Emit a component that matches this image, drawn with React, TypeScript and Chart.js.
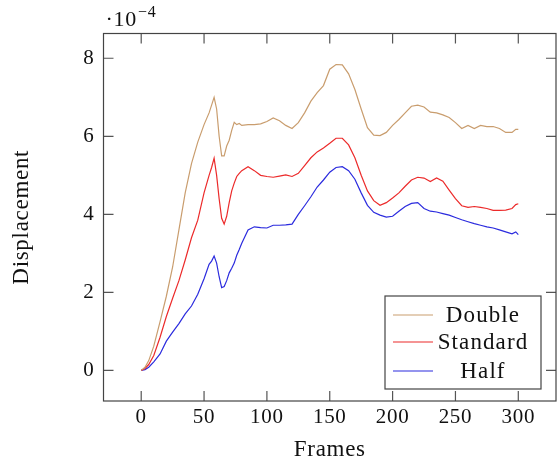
import React, { useEffect, useRef } from "react";
import { Chart, registerables } from "chart.js";

Chart.register(...registerables);

// Frames (x values)
const frames = [
  0, 3, 6, 10, 15, 20, 25, 30, 35, 40, 45, 50, 54, 56, 58, 60, 62, 64, 66, 68, 70, 72,
  74, 76, 78, 80, 85, 90, 95, 100, 105, 110, 115, 120, 125, 130, 135, 140, 145, 150,
  155, 160, 165, 170, 175, 180, 185, 190, 195, 200, 205, 210, 215, 220, 225, 230, 235,
  240, 245, 250, 255, 260, 265, 270, 275, 280, 285, 290, 295, 298, 300,
];

// Displacement values, in units of 1e-4
const doubleVals = [
  0, 0.08, 0.25, 0.62, 1.25, 1.9, 2.65, 3.6, 4.55, 5.3, 5.85, 6.3, 6.6, 6.8, 7.0, 6.7,
  6.0, 5.5, 5.5, 5.75, 5.9, 6.15, 6.36, 6.3, 6.33, 6.28, 6.3, 6.3, 6.32, 6.38, 6.47,
  6.4, 6.28, 6.2, 6.35, 6.6, 6.9, 7.12, 7.3, 7.72, 7.84, 7.83, 7.6, 7.2, 6.7, 6.22,
  6.03, 6.02, 6.1, 6.28, 6.43, 6.6, 6.77, 6.8, 6.75, 6.62, 6.6, 6.55, 6.48, 6.35, 6.2,
  6.28, 6.2, 6.28, 6.25, 6.25, 6.2, 6.1, 6.1, 6.18, 6.18,
];

const standardVals = [
  0, 0.05, 0.15, 0.38, 0.85, 1.38, 1.85, 2.3, 2.83, 3.4, 3.85, 4.55, 5.0, 5.2, 5.44,
  5.0, 4.4, 3.9, 3.75, 3.95, 4.3, 4.6, 4.8, 4.97, 5.05, 5.12, 5.22, 5.12, 5.0, 4.97,
  4.95, 4.98, 5.01, 4.97, 5.05, 5.25, 5.45, 5.6, 5.7, 5.82, 5.95, 5.95, 5.78, 5.45,
  5.0, 4.6, 4.35, 4.23, 4.3, 4.42, 4.55, 4.72, 4.88, 4.95, 4.93, 4.84, 4.93, 4.85,
  4.62, 4.4, 4.22, 4.18, 4.2, 4.18, 4.15, 4.1, 4.1, 4.11, 4.15, 4.25, 4.27,
];

const halfVals = [
  0, 0.02, 0.08, 0.22, 0.42, 0.75, 0.98, 1.2, 1.45, 1.65, 1.95, 2.35, 2.72, 2.8, 2.93,
  2.75, 2.4, 2.12, 2.15, 2.3, 2.5, 2.62, 2.75, 2.95, 3.1, 3.26, 3.6, 3.68, 3.66, 3.65,
  3.72, 3.72, 3.73, 3.75, 4.0, 4.22, 4.45, 4.7, 4.88, 5.08, 5.2, 5.22, 5.12, 4.9, 4.55,
  4.23, 4.05, 3.98, 3.93, 3.95, 4.08, 4.2, 4.28, 4.3, 4.15, 4.08, 4.06, 4.02, 3.98,
  3.92, 3.86, 3.81, 3.76, 3.72, 3.68, 3.65, 3.6, 3.55, 3.5, 3.55, 3.48,
];

const seriesLabels = ["Double", "Standard", "Half"];
const seriesColors = ["#c99d6e", "#ec2a2a", "#2b2bde"];

const xTicks = [0, 50, 100, 150, 200, 250, 300];
const yTicks = [0, 2, 4, 6, 8];

const FONT = "'Liberation Serif', 'Times New Roman', serif";
const FRAME = "#555555";

const toPoints = (vals: number[]) => frames.map((f, i) => ({ x: f, y: vals[i] }));

const framePlugin = {
  id: "pgfFrame",
  beforeDraw(chart: any) {
    try {
      chart.ctx.letterSpacing = "0.7px";
    } catch (e) {
      /* ignore */
    }
  },
  afterDraw(chart: any) {
    const { ctx, chartArea } = chart;
    const { left, right, top, bottom } = chartArea;
    const xs = chart.scales.x;
    const ys = chart.scales.y;
    ctx.save();
    ctx.strokeStyle = FRAME;
    ctx.lineWidth = 1.2;
    const tl = 10;
    ctx.beginPath();
    xTicks.forEach((v) => {
      const px = xs.getPixelForValue(v);
      ctx.moveTo(px, bottom);
      ctx.lineTo(px, bottom - tl);
      ctx.moveTo(px, top);
      ctx.lineTo(px, top + tl);
    });
    yTicks.forEach((v) => {
      const py = ys.getPixelForValue(v);
      ctx.moveTo(left, py);
      ctx.lineTo(left + tl, py);
      ctx.moveTo(right, py);
      ctx.lineTo(right - tl, py);
    });
    ctx.stroke();
    ctx.strokeStyle = "#444444";
    ctx.strokeRect(left, top, right - left, bottom - top);

    // exponent label
    ctx.fillStyle = "#111111";
    ctx.textBaseline = "alphabetic";
    ctx.textAlign = "left";
    ctx.font = `22px ${FONT}`;
    ctx.fillText("·10", left + 2, top - 8);
    const w = ctx.measureText("·10").width;
    ctx.font = `16px ${FONT}`;
    ctx.fillText("−4", left + 2 + w + 1, top - 17);

    // legend
    const bw = 156;
    const bh = 93;
    const bx = right - 15 - bw;
    const by = bottom - 12 - bh;
    ctx.fillStyle = "#ffffff";
    ctx.fillRect(bx, by, bw, bh);
    ctx.strokeStyle = "#444444";
    ctx.lineWidth = 1.2;
    ctx.strokeRect(bx, by, bw, bh);
    const rows = [19, 46, 75];
    chart.data.datasets.forEach((ds: any, i: number) => {
      const ry = by + rows[i];
      ctx.strokeStyle = ds.borderColor;
      ctx.lineWidth = 1.2;
      ctx.beginPath();
      ctx.moveTo(bx + 8, ry);
      ctx.lineTo(bx + 48, ry);
      ctx.stroke();
      ctx.fillStyle = "#111111";
      ctx.font = `23px ${FONT}`;
      try {
        ctx.letterSpacing = "1.1px";
      } catch (e) {
        /* ignore */
      }
      ctx.textAlign = "center";
      ctx.textBaseline = "middle";
      ctx.fillText(ds.label, bx + 98, ry + 1);
    });
    ctx.restore();
  },
};

export default function App() {
  const ref = useRef<HTMLCanvasElement | null>(null);

  useEffect(() => {
    document.body.style.margin = "0";
    const canvas = ref.current;
    if (!canvas) return;
    const chart = new Chart(canvas, {
      type: "line",
      data: {
        datasets: [doubleVals, standardVals, halfVals].map((vals, i) => ({
          label: seriesLabels[i],
          data: toPoints(vals),
          borderColor: seriesColors[i],
          backgroundColor: seriesColors[i],
          borderWidth: 1.2,
          pointRadius: 0,
          tension: 0,
          fill: false,
        })),
      },
      options: {
        animation: false,
        responsive: false,
        devicePixelRatio: 1,
        layout: { padding: { top: 33.5, right: 3, bottom: 0, left: 0 } },
        plugins: {
          legend: { display: false },
          tooltip: { enabled: false },
        },
        scales: {
          x: {
            type: "linear",
            min: -30,
            max: 330,
            afterBuildTicks: (s: any) => {
              s.ticks = xTicks.map((v) => ({ value: v }));
            },
            afterFit: (s: any) => {
              s.height = 63;
            },
            grid: { display: false, drawTicks: false },
            border: { display: false },
            ticks: {
              color: "#111111",
              font: { family: FONT, size: 21 },
              padding: 4,
              maxRotation: 0,
              autoSkip: false,
            },
            title: {
              display: true,
              text: "Frames",
              color: "#111111",
              font: { family: FONT, size: 23 },
              padding: { top: 0, bottom: 0 },
            },
          },
          y: {
            type: "linear",
            min: -0.785,
            max: 8.635,
            afterBuildTicks: (s: any) => {
              s.ticks = yTicks.map((v) => ({ value: v }));
            },
            afterFit: (s: any) => {
              s.width = 103.5;
            },
            grid: { display: false, drawTicks: false },
            border: { display: false },
            ticks: {
              color: "#111111",
              font: { family: FONT, size: 21 },
              padding: 9,
              autoSkip: false,
            },
            title: {
              display: true,
              text: "Displacement",
              color: "#111111",
              font: { family: FONT, size: 23 },
              padding: { top: 8, bottom: 0 },
            },
          },
        },
      },
      plugins: [framePlugin],
    });
    return () => chart.destroy();
  }, []);

  return (
    <div style={{ width: 559, height: 464 }}>
      <canvas ref={ref} width={559} height={464} style={{ display: "block" }} />
    </div>
  );
}
